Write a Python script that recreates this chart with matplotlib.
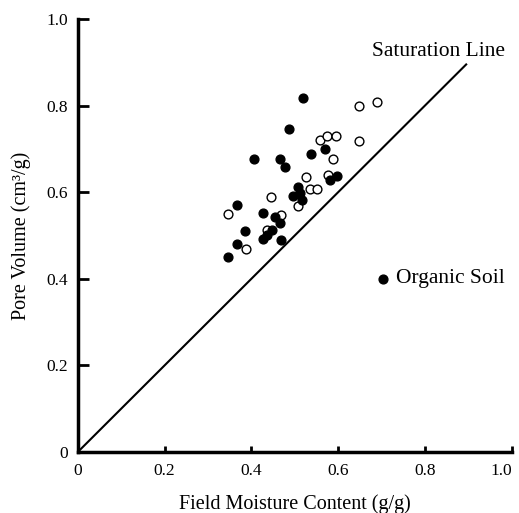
import matplotlib.pyplot as plt

plt.rcParams['font.family'] = ['Liberation Serif', 'DejaVu Serif']

# organic soil (filled) points
organic_x = [0.520, 0.487, 0.407, 0.466, 0.478, 0.537, 0.570, 0.580, 0.598, 0.507,
             0.512, 0.496, 0.516, 0.366, 0.427, 0.455, 0.466, 0.386, 0.447, 0.435,
             0.426, 0.468, 0.366, 0.347]
organic_y = [0.817, 0.747, 0.677, 0.677, 0.657, 0.688, 0.700, 0.627, 0.638, 0.611,
             0.597, 0.590, 0.582, 0.570, 0.551, 0.542, 0.528, 0.511, 0.513, 0.501,
             0.492, 0.490, 0.480, 0.451]

# other soils (open) points
other_x = [0.648, 0.689, 0.557, 0.574, 0.594, 0.648, 0.587, 0.526, 0.577, 0.534,
           0.551, 0.446, 0.507, 0.347, 0.469, 0.435, 0.388]
other_y = [0.799, 0.808, 0.721, 0.730, 0.730, 0.718, 0.677, 0.636, 0.640, 0.608,
           0.608, 0.588, 0.568, 0.550, 0.547, 0.513, 0.468]

saturation_x = [0.0, 0.895]
saturation_y = [0.0, 0.895]

x_ticks = [0, 0.2, 0.4, 0.6, 0.8, 1.0]
x_tick_labels = ['0', '0.2', '0.4', '0.6', '0.8', '1.0']
y_ticks = [0, 0.2, 0.4, 0.6, 0.8, 1.0]
y_tick_labels = ['0', '0.2', '0.4', '0.6', '0.8', '1.0']

fig = plt.figure(figsize=(5.19, 5.13), dpi=100)
ax = fig.add_axes([0.150, 0.119, 0.836, 0.844])

ax.plot(saturation_x, saturation_y, color='black', lw=1.5, zorder=1)
ax.scatter(other_x, other_y, s=40, facecolors='white', edgecolors='black', linewidths=1.0, zorder=2)
ax.scatter(organic_x, organic_y, s=40, color='black', zorder=3)

# legend marker + text
ax.scatter([0.703], [0.40], s=40, color='black', clip_on=False)
ax.text(0.733, 0.40, 'Organic Soil', fontsize=15.5, va='center', ha='left')
ax.text(0.832, 0.924, 'Saturation Line', fontsize=15.5, va='center', ha='center')

ax.set_xlim(0, 1.0)
ax.set_ylim(0, 1.0)
ax.set_xticks(x_ticks)
ax.set_xticklabels(x_tick_labels)
ax.set_yticks(y_ticks)
ax.set_yticklabels(y_tick_labels)
ax.get_xticklabels()[-1].set_ha('right')
ax.get_xticklabels()[-1].set_x(1.008)

for side in ['top', 'right']:
    ax.spines[side].set_visible(False)
for side in ['left', 'bottom']:
    ax.spines[side].set_linewidth(2.5)

ax.tick_params(axis='y', direction='in', length=8, width=2, labelsize=12.5, pad=7)
ax.tick_params(axis='x', direction='in', length=4, width=2, labelsize=12.5, pad=8)

ax.set_xlabel('Field Moisture Content (g/g)', fontsize=14.5, labelpad=11)
ax.set_ylabel('Pore Volume (cm³/g)', fontsize=14.5, labelpad=11)

fig.savefig('out.png', dpi=100)
